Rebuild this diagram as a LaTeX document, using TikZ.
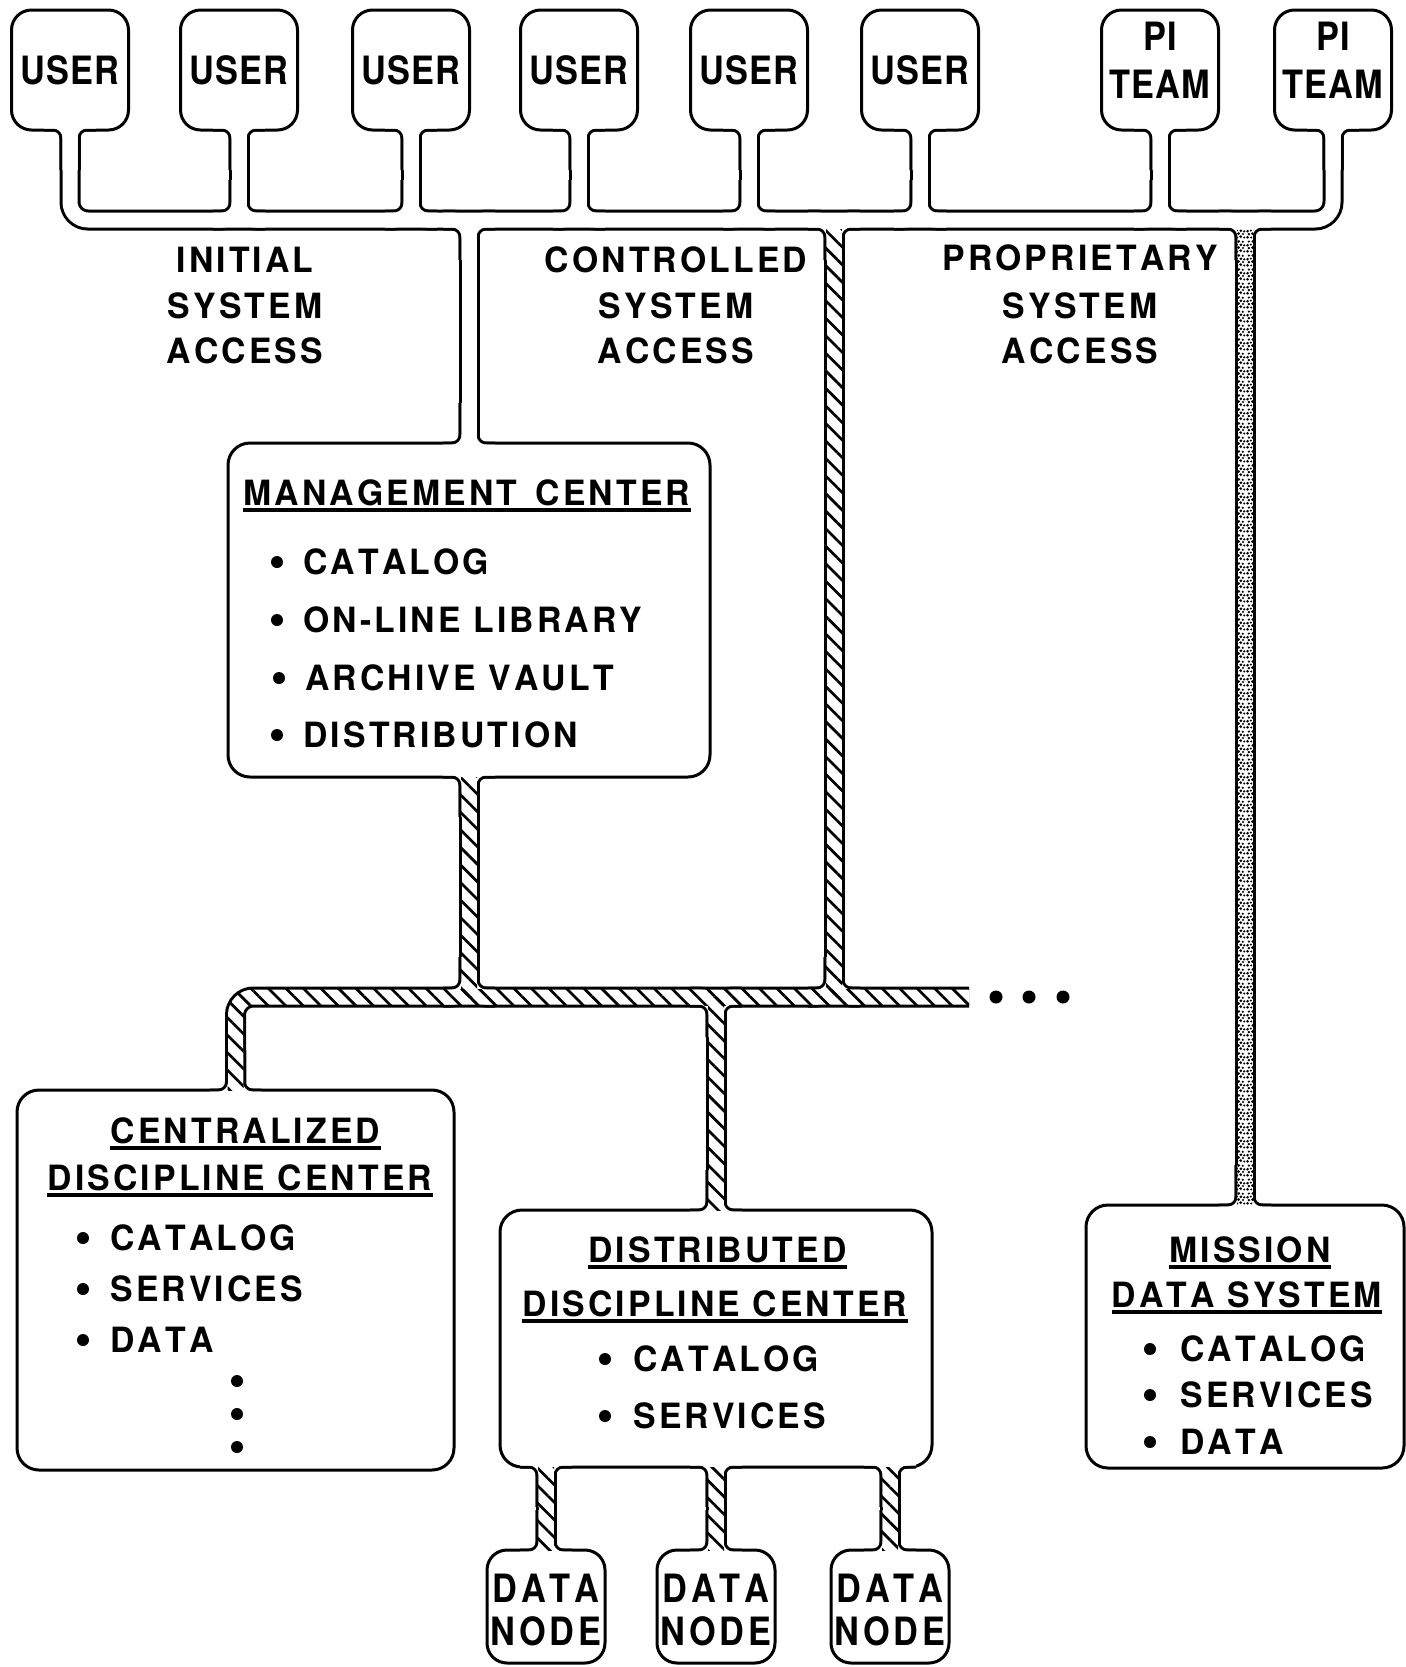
\documentclass[tikz,border=0pt]{standalone}
\usepackage{fontspec}
\usetikzlibrary{calc,patterns.meta}
\newfontfamily\mainf{TeX Gyre Heros}[FakeStretch=0.97,LetterSpace=9,Kerning=Off]
\newfontfamily\boxf{TeX Gyre Heros}[FakeStretch=0.88,LetterSpace=3,Kerning=Off]
\newfontfamily\dataf{TeX Gyre Heros}[FakeStretch=0.88,LetterSpace=10,Kerning=Off]
\pgfdeclarelayer{pblack}\pgfdeclarelayer{pwhite}\pgfdeclarelayer{phatch}\pgfdeclarelayer{ptext}
\pgfsetlayers{pblack,main,pwhite,phatch,ptext}
\tikzdeclarepattern{name=stip,
  bounding box={(0pt,0pt) and (7pt,7pt)},
  tile size={(7pt,7pt)},
  code={
    \pgfpathcircle{\pgfpoint{0.8pt}{0.9pt}}{0.75pt}
    \pgfpathcircle{\pgfpoint{2.7pt}{0.8pt}}{0.6pt}
    \pgfpathcircle{\pgfpoint{4.5pt}{1.3pt}}{0.8pt}
    \pgfpathcircle{\pgfpoint{6.3pt}{0.8pt}}{0.6pt}
    \pgfpathcircle{\pgfpoint{1.5pt}{2.6pt}}{0.7pt}
    \pgfpathcircle{\pgfpoint{3.4pt}{2.9pt}}{0.8pt}
    \pgfpathcircle{\pgfpoint{5.7pt}{2.7pt}}{0.6pt}
    \pgfpathcircle{\pgfpoint{0.8pt}{4.2pt}}{0.75pt}
    \pgfpathcircle{\pgfpoint{2.5pt}{4.5pt}}{0.6pt}
    \pgfpathcircle{\pgfpoint{4.6pt}{4.4pt}}{0.75pt}
    \pgfpathcircle{\pgfpoint{6.3pt}{4.1pt}}{0.65pt}
    \pgfpathcircle{\pgfpoint{1.5pt}{6.1pt}}{0.65pt}
    \pgfpathcircle{\pgfpoint{3.5pt}{6.2pt}}{0.75pt}
    \pgfpathcircle{\pgfpoint{5.6pt}{6.0pt}}{0.6pt}
    \pgfusepath{fill}
  }}
% fillet pair: #1 style, #2 junction point, #3 stem direction (+1 down,-1 up), #4 inset into element
\newcommand\fil[4]{%
  \draw[#1,rounded corners=8.5pt] ($(#2)+(0,{40*#3})$) -- ($(#2)+(0,{-#4*#3})$) -- ($(#2)+(-26,{-#4*#3})$);
  \draw[#1,rounded corners=8.5pt] ($(#2)+(0,{40*#3})$) -- ($(#2)+(0,{-#4*#3})$) -- ($(#2)+(26,{-#4*#3})$);}
\newcommand\pipes[1]{%
  \draw[#1,rounded corners=9pt] (u1.south) -- (u1.south |- tb) -- (p2.south |- tb) -- (p2.south);
  \foreach \n in {u2,u3,u4,u5,u6,p1} {\draw[#1] (\n.south) -- (\n.south |- tb); \fil{#1}{\n.south |- tb}{-1}{0}}
  \foreach \n in {u1,u2,u3,u4,u5,u6,p1,p2} {\fil{#1}{\n.south}{1}{9}}
  \draw[#1] (mg.north |- tb) -- (mg.north); \fil{#1}{mg.north |- tb}{1}{0} \fil{#1}{mg.north}{-1}{9}
  \draw[#1] (jco) -- (jco |- lb); \fil{#1}{jco}{1}{0} \fil{#1}{jco |- lb}{-1}{0}
  \draw[#1] (mi.north |- tb) -- (mi.north); \fil{#1}{mi.north |- tb}{1}{0} \fil{#1}{mi.north}{-1}{9}
  \draw[#1] (mg.south) -- (mg.south |- lb); \fil{#1}{mg.south}{1}{9} \fil{#1}{mg.south |- lb}{-1}{0}
  \draw[#1,rounded corners=9pt] (ce.north) -- (ce.north |- lb) -- (lbend); \fil{#1}{ce.north}{-1}{9}
  \draw[#1] (di.north |- lb) -- (di.north); \fil{#1}{di.north |- lb}{1}{0} \fil{#1}{di.north}{-1}{9}
  \foreach \n in {d1,d2,d3} {\draw[#1] (\n.north |- di.south) -- (\n.north); \fil{#1}{\n.north |- di.south}{1}{9} \fil{#1}{\n.north}{-1}{9}}
}
\begin{document}
\begin{tikzpicture}[x=0.5pt,y=-0.5pt,
  box/.style={draw, line width=1.5pt, fill=white, inner sep=0pt, outer sep=0pt},
  sbox/.style={box, rounded corners=10pt, minimum width=58.5pt, minimum height=60pt},
  dbox/.style={box, rounded corners=10pt, minimum width=59pt, minimum height=56.5pt},
  bbox/.style={box, rounded corners=11pt},
  pb/.style={line width=10.5pt, black},
  pw/.style={line width=7.5pt, white},
  lab/.style={font=\boxf\bfseries\fontsize{19.5pt}{22pt}\selectfont, inner sep=0pt, anchor=base},
  dlab/.style={font=\dataf\bfseries\fontsize{19.5pt}{22pt}\selectfont, inner sep=0pt, anchor=base},
  tx/.style={font=\mainf\bfseries\fontsize{17.4pt}{20pt}\selectfont, inner sep=0pt, anchor=base},
  txl/.style={tx, anchor=base west},
  ul/.style={line width=2pt},
  hatch/.style={pattern={Lines[angle=-45,distance=6.2pt,line width=1.35pt]}},
  stipple/.style={pattern=stip},
]
\useasboundingbox (0,0) rectangle (1406,1667);
\begin{pgfonlayer}{pblack}
\fill[white] (0,0) rectangle (1406,1667);
\end{pgfonlayer}
% boxes
\node[sbox] (u1) at (70,70) {};
\node[sbox] (u2) at (239,70) {};
\node[sbox] (u3) at (411,70) {};
\node[sbox] (u4) at (579,70) {};
\node[sbox] (u5) at (749,70) {};
\node[sbox] (u6) at (920,70) {};
\node[sbox] (p1) at (1160,70) {};
\node[sbox] (p2) at (1333,70) {};
\node[bbox, minimum width=241pt, minimum height=167pt] (mg) at (469,610) {};
\node[bbox, minimum width=218.5pt, minimum height=190pt] (ce) at (235.5,1280) {};
\node[bbox, minimum width=216pt, minimum height=128.5pt] (di) at (716,1338.5) {};
\node[bbox, minimum width=159pt, minimum height=131.5pt] (mi) at (1245,1336.5) {};
\node[dbox] (d1) at (546,1606.5) {};
\node[dbox] (d2) at (716,1606.5) {};
\node[dbox] (d3) at (890,1606.5) {};
\coordinate (tb) at (0,220);
\coordinate (lb) at (0,997);
\coordinate (jco) at (834,220);
\coordinate (lbend) at (969,997);
% pipes
\begin{pgfonlayer}{pblack}\pipes{pb}\end{pgfonlayer}
\begin{pgfonlayer}{pwhite}\pipes{pw}\end{pgfonlayer}
% hatching and stipple
\begin{pgfonlayer}{phatch}
\fill[hatch] ($(jco)+(-8,9)$) rectangle ($(jco |- lb)+(8,0)$);
\fill[hatch] ($(mg.south)+(-8,0)$) rectangle ($(mg.south |- lb)+(8,0)$);
\fill[hatch] ($(ce.north |- lb)+(18,-8)$) rectangle ($(lbend)+(0,8)$);
\coordinate (cc) at ($(ce.north |- lb)+(18,18)$);
\fill[hatch] ($(cc)+(-26,0)$) arc[start angle=180,end angle=270,radius=26] -- ($(cc)+(0,-10)$) arc[start angle=270,end angle=180,radius=10] -- cycle;
\fill[hatch] ($(ce.north)+(-8,0)$) rectangle ($(ce.north |- lb)+(8,18)$);
\fill[hatch] ($(di.north |- lb)+(-8,0)$) rectangle ($(di.north)+(8,0)$);
\foreach \n in {d1,d2,d3} {\fill[hatch] ($(\n.north |- di.south)+(-8,0)$) rectangle ($(\n.north)+(8,0)$);}
\fill[stipple] ($(mi.north |- tb)+(-8,9)$) rectangle ($(mi.north)+(8,0)$);
\end{pgfonlayer}
% texts
\begin{pgfonlayer}{ptext}
\foreach \n in {u1,u2,u3,u4,u5,u6} {\node[lab] (t\n) at (\n |- 0,84) {USER};}
\foreach \n in {p1,p2} {\node[lab] (t\n a) at (\n |- 0,50) {PI}; \node[lab] (t\n b) at (\n |- 0,98) {TEAM};}
\node[tx] (ia1) at (245,272) {INITIAL};
\node[tx] (ia2) at (245,318) {SYSTEM};
\node[tx] (ia3) at (245,363) {ACCESS};
\node[tx] (ca1) at (676,272) {CONTROLLED};
\node[tx] (ca2) at (676,318) {SYSTEM};
\node[tx] (ca3) at (676,363) {ACCESS};
\node[tx] (pa1) at (1080,270) {PROPRIETARY};
\node[tx] (pa2) at (1080,318) {SYSTEM};
\node[tx] (pa3) at (1080,363) {ACCESS};
% management center
\node[txl] (mgt) at (243,505) {MANAGEMENT\hspace{3pt} CENTER};
\draw[ul] ($(mgt.base west)+(0,5)$) -- ($(mgt.base east)+(0,5)$);
\node[txl] (mg1) at (303,574) {CATALOG};
\node[txl] (mg2) at (303,632) {ON-LINE LIBRARY};
\node[txl] (mg3) at (305,690) {ARCHIVE VAULT};
\node[txl] (mg4) at (303,747) {DISTRIBUTION};
\foreach \n in {mg1,mg2,mg3,mg4} {\fill ($(\n.base west)+(-26,-12)$) circle[radius=3pt];}
% centralized
\node[tx] (ce1) at (245.5,1143) {CENTRALIZED};
\draw[ul] ($(ce1.base west)+(0,5)$) -- ($(ce1.base east)+(0,5)$);
\node[tx] (ce2) at (240,1190) {DISCIPLINE CENTER};
\draw[ul] ($(ce2.base west)+(0,5)$) -- ($(ce2.base east)+(0,5)$);
\node[txl] (ce3) at (110,1250) {CATALOG};
\node[txl] (ce4) at (110,1301) {SERVICES};
\node[txl] (ce5) at (110,1352) {DATA};
\foreach \n in {ce3,ce4,ce5} {\fill ($(\n.base west)+(-27,-12)$) circle[radius=3pt];}
\foreach \y in {1381,1414,1447} {\fill (237,\y) circle[radius=3pt];}
% distributed
\node[tx] (di1) at (717.5,1262) {DISTRIBUTED};
\draw[ul] ($(di1.base west)+(0,5)$) -- ($(di1.base east)+(0,5)$);
\node[tx] (di2) at (715,1316) {DISCIPLINE CENTER};
\draw[ul] ($(di2.base west)+(0,5)$) -- ($(di2.base east)+(0,5)$);
\node[txl] (di3) at (633,1371) {CATALOG};
\node[txl] (di4) at (633,1428) {SERVICES};
\foreach \n in {di3,di4} {\fill ($(\n.base west)+(-28,-12)$) circle[radius=3pt];}
% mission
\node[tx] (mi1) at (1250,1262) {MISSION};
\draw[ul] ($(mi1.base west)+(0,5)$) -- ($(mi1.base east)+(0,5)$);
\node[tx] (mi2) at (1247,1307) {DATA SYSTEM};
\draw[ul] ($(mi2.base west)+(0,5)$) -- ($(mi2.base east)+(0,5)$);
\node[txl] (mi3) at (1180,1361) {CATALOG};
\node[txl] (mi4) at (1180,1407) {SERVICES};
\node[txl] (mi5) at (1180,1454) {DATA};
\foreach \n in {mi3,mi4,mi5} {\fill ($(\n.base west)+(-30,-12)$) circle[radius=3pt];}
% data nodes
\foreach \n in {d1,d2,d3} {\node[dlab] (t\n a) at (\n |- 0,1602) {DATA}; \node[dlab] (t\n b) at (\n |- 0,1645) {NODE};}
% continuation dots
\foreach \x in {996,1029,1063} {\fill (\x,997) circle[radius=3.25pt];}
\end{pgfonlayer}
\end{tikzpicture}
\end{document}
